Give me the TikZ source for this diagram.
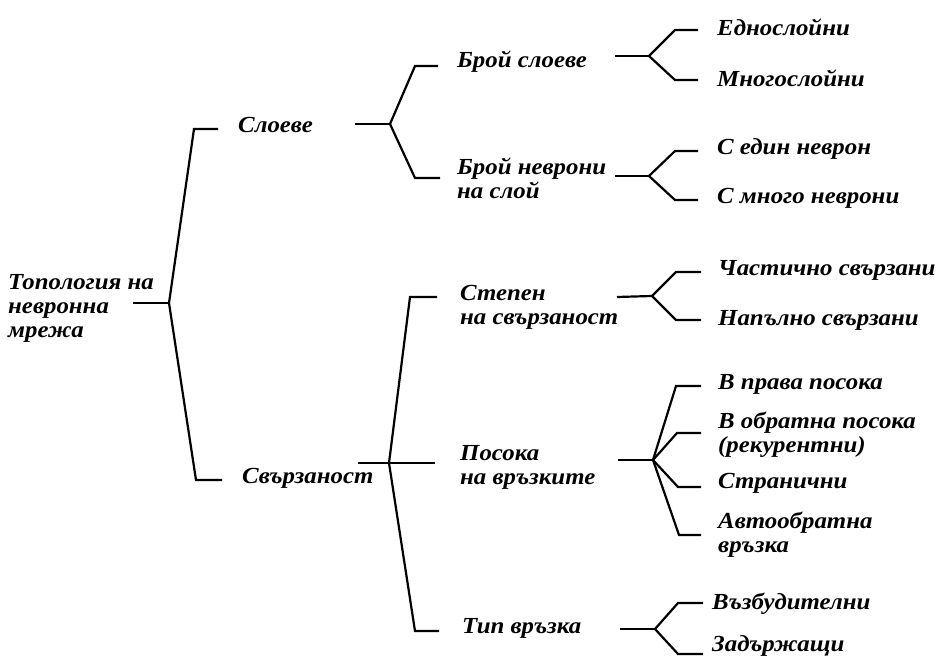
\documentclass[tikz,border=0pt]{standalone}
\usepackage{fontspec}
\setmainfont{Liberation Serif}[FakeStretch=1.08]
\usetikzlibrary{positioning}

\tikzset{
  lbl/.style={anchor=west, align=left, inner sep=0pt,
    font=\bfseries\itshape\fontsize{23}{24}\selectfont},
  br/.style={line width=2.2pt, line join=miter},
}

\begin{document}
\begin{tikzpicture}[x=1pt,y=-1pt]
  \useasboundingbox (0,0) rectangle (946,660);

  % Корен
  \node[lbl] (top) at (8,308) {Топология на\\невронна\\мрежа};

  % Второ ниво
  \node[lbl] (sloeve) at (238,125) {Слоеве};
  \node[lbl] (svarz) at (242,478) {Свързаност};

  % Трето ниво
  \node[lbl] (broysl) at (457,62) {Брой слоеве};
  \node[lbl] (broynev) at (457,178) {Брой неврони\\на слой};
  \node[lbl] (stepen) at (460,307) {Степен\\на свързаност};
  \node[lbl] (posoka) at (460,467) {Посока\\на връзките};
  \node[lbl] (tip) at (462,628) {Тип връзка};

  % Листа
  \node[lbl] (edn) at (717,27) {Еднослойни};
  \node[lbl] (mnog) at (717,78) {Многослойни};
  \node[lbl] (sedin) at (717,149) {С един неврон};
  \node[lbl] (smnogo) at (717,198) {С много неврони};
  \node[lbl] (chast) at (718,270) {Частично свързани};
  \node[lbl] (napal) at (718,320) {Напълно свързани};
  \node[lbl] (prava) at (718,384) {В права посока};
  \node[lbl] (obratna) at (718,435) {В обратна посока\\(рекурентни)};
  \node[lbl] (stran) at (718,483) {Странични};
  \node[lbl] (avto) at (718,535) {Автообратна\\връзка};
  \node[lbl] (vazb) at (712,604) {Възбудителни};
  \node[lbl] (zadarzh) at (712,646) {Задържащи};

  % Дръжки и разклонения
  \coordinate (top-s) at (133,303);     \coordinate (top-j) at (169,303);
  \coordinate (sloeve-s) at (355,124);  \coordinate (sloeve-j) at (390,124);
  \coordinate (svarz-s) at (358,463);   \coordinate (svarz-j) at (389,463);
  \coordinate (broysl-s) at (615,56);   \coordinate (broysl-j) at (649,56);
  \coordinate (broynev-s) at (615,176); \coordinate (broynev-j) at (649,176);
  \coordinate (stepen-s) at (617,297);  \coordinate (stepen-j) at (652,296);
  \coordinate (posoka-s) at (618,460);  \coordinate (posoka-j) at (653,460);
  \coordinate (tip-s) at (620,629);     \coordinate (tip-j) at (655,629);

  \foreach \n in {top,sloeve,svarz,broysl,broynev,stepen,posoka,tip}
    \draw[br] (\n-s) -- (\n-j);

  % Скоби: разклонение -> ъгъл -> текст
  \foreach \j/\c/\cx/\ex/\dy in {
      top-j/sloeve/44/20/-4, top-j/svarz/46/20/-2,
      sloeve-j/broysl/42/19/-4, sloeve-j/broynev/42/17/0,
      svarz-j/stepen/50/23/10, svarz-j/posoka/71/25/4, svarz-j/tip/47/23/-3,
      broysl-j/edn/42/19/-3, broysl-j/mnog/42/19/-2,
      broynev-j/sedin/42/19/-2, broynev-j/smnogo/42/19/-2,
      stepen-j/chast/42/17/-2, stepen-j/napal/42/17/0,
      posoka-j/prava/42/17/-2, posoka-j/obratna/41/17/2,
      posoka-j/stran/40/17/-4, posoka-j/avto/39/17/0,
      tip-j/vazb/34/9/1, tip-j/zadarzh/34/9/-8}
    \draw[br] (\j) -- ([xshift=-\cx pt,yshift=\dy pt]\c.west)
      -- ([xshift=-\ex pt,yshift=\dy pt]\c.west);

\end{tikzpicture}
\end{document}
